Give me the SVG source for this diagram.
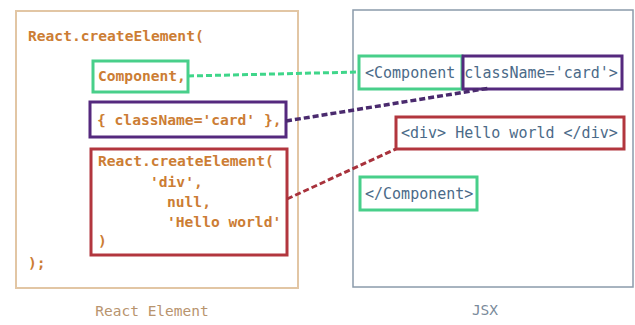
<svg xmlns="http://www.w3.org/2000/svg" width="635" height="325" viewBox="0 0 635 325">
<style>
.code{font-family:"DejaVu Sans Mono","Liberation Mono",monospace;font-size:14.6px;font-weight:bold;fill:#cc7d34}
.jsx{font-family:"DejaVu Sans Mono","Liberation Mono",monospace;font-size:15px;fill:#4b6a88}
.lbl{font-family:"DejaVu Sans Mono","Liberation Mono",monospace;font-size:14.5px}
.green{fill:none;stroke:#48cf8a;stroke-width:3}
.purple{fill:none;stroke:#55297e;stroke-width:3}
.red{fill:none;stroke:#b2363e;stroke-width:3}
.conn{fill:none;stroke-dasharray:6 3}
</style>
<rect width="635" height="325" fill="#ffffff"/>
<g id="react-element">
<rect x="16" y="11" width="282" height="277" fill="none" stroke="#e2c6a4" stroke-width="2"/>
<text class="code" x="28" y="41">React.createElement(</text>
<text class="code" x="28" y="268">);</text>
<text class="lbl" x="152" y="316" text-anchor="middle" fill="#b8946e">React Element</text>
</g>
<g id="jsx">
<rect x="353" y="10" width="280" height="277" fill="none" stroke="#8b9bab" stroke-width="1.5"/>
<text class="jsx" x="365" y="78">&lt;Component className='card'&gt;</text>
<text class="lbl" x="485" y="315" text-anchor="middle" fill="#7a8a9a">JSX</text>
</g>
<g id="arg-component">
<rect class="green" x="93" y="61" width="95" height="31"/>
<text class="code" x="98" y="81">Component,</text>
</g>
<g id="arg-props">
<rect class="purple" x="90" y="102" width="196" height="35"/>
<text class="code" x="97" y="125">{ className='card' },</text>
</g>
<g id="arg-child">
<rect class="red" x="91" y="149" width="196" height="106"/>
<text class="code" x="98" y="166">React.createElement(</text>
<text class="code" x="150" y="187">'div',</text>
<text class="code" x="167" y="207">null,</text>
<text class="code" x="167" y="227">'Hello world'</text>
<text class="code" x="98" y="246">)</text>
</g>
<g id="jsx-open">
<rect class="green" x="359" y="56" width="103" height="33"/>
</g>
<g id="jsx-props">
<rect class="purple" x="463" y="56" width="159" height="33"/>
</g>
<g id="jsx-child">
<rect class="red" x="396" y="117" width="228" height="32"/>
<text class="jsx" x="401" y="138">&lt;div&gt; Hello world &lt;/div&gt;</text>
</g>
<g id="jsx-close">
<rect class="green" x="360" y="177" width="117" height="33"/>
<text class="jsx" x="365" y="199">&lt;/Component&gt;</text>
</g>
<g id="connectors">
<path class="conn" d="M188,76 L359,72" stroke="#3fd68a" stroke-width="3"/>
<path class="conn" d="M286,121 L490,88" stroke="#4a2a6e" stroke-width="3.5"/>
<path class="conn" d="M287,199 L396,149" stroke="#a8323c" stroke-width="3"/>
</g>
</svg>
